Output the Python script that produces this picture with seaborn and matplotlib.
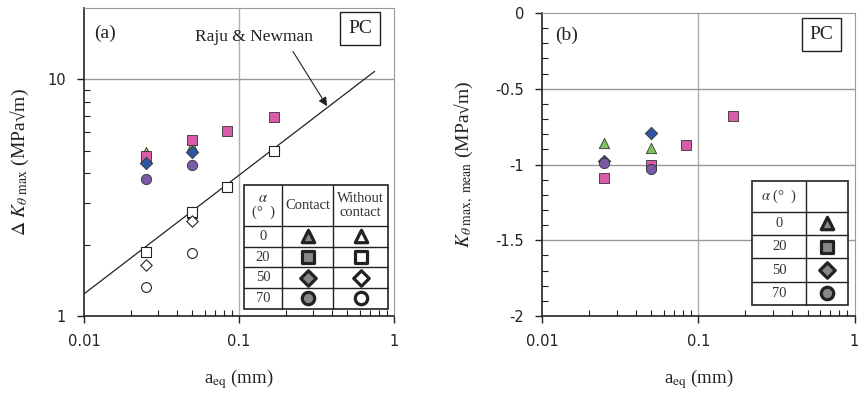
import matplotlib
matplotlib.use("Agg")
import matplotlib.pyplot as plt
import numpy as np
import pandas as pd
import seaborn as sns
from matplotlib.ticker import FixedLocator, NullFormatter, FixedFormatter


# ---- data ----
alpha_labels = ["0", "20", "50", "70"]
markers = ["^", "s", "D", "o"]
colors = ["#7FC45A", "#D95CA8", "#2F55A4", "#7A5AA6"]

# panel (a): Delta K_theta max, contact
a_x_contact = {
    "0": [0.025, 0.05],
    "20": [0.025, 0.05, 0.084, 0.168],
    "50": [0.025, 0.05],
    "70": [0.025, 0.05],
}
a_y_contact = {
    "0": [4.95, 5.25],
    "20": [4.75, 5.55, 6.05, 6.9],
    "50": [4.45, 4.93],
    "70": [3.8, 4.35],
}
# panel (a): without contact
a_x_free = {
    "0": [0.025, 0.05],
    "20": [0.025, 0.05, 0.084, 0.168],
    "50": [0.025, 0.05],
    "70": [0.025, 0.05],
}
a_y_free = {
    "0": [1.88, 2.72],
    "20": [1.86, 2.74, 3.52, 4.98],
    "50": [1.64, 2.53],
    "70": [1.32, 1.84],
}

# Raju & Newman reference line (end points)
raju_x = [0.01, 0.75]
raju_y = [1.24, 10.8]

# panel (b): K_theta max, mean
b_x = {
    "0": [0.025, 0.05],
    "20": [0.025, 0.05, 0.084, 0.168],
    "50": [0.025, 0.05],
    "70": [0.025, 0.05],
}
b_y = {
    "0": [-0.86, -0.89],
    "20": [-1.09, -1.0, -0.87, -0.68],
    "50": [-0.98, -0.79],
    "70": [-0.99, -1.03],
}

serif = ["Liberation Serif", "DejaVu Serif"]
sans = ["DejaVu Sans"]

sns.set_theme(style="white")
plt.rcParams["font.family"] = sans
plt.rcParams["mathtext.fontset"] = "stix"

fig = plt.figure(figsize=(8.61, 3.95), dpi=100)
ax1 = fig.add_axes([0.0976, 0.2, 0.36, 0.7797])
ax2 = fig.add_axes([0.6295, 0.2, 0.363, 0.767])


def style_axes(ax):
    for sp in ax.spines.values():
        sp.set_color("#222222")
        sp.set_linewidth(1.2)
    ax.spines["top"].set_color("#999999")
    ax.spines["right"].set_color("#999999")
    ax.spines["top"].set_linewidth(0.8)
    ax.spines["right"].set_linewidth(0.8)
    ax.tick_params(which="major", direction="out", length=5, width=1,
                   color="#222222", labelsize=10.5, pad=8, labelcolor="#222222")
    ax.tick_params(which="minor", direction="in", length=4, width=0.8,
                   color="#222222")
    ax.tick_params(axis="x", which="both", top=False, bottom=True)
    ax.tick_params(axis="y", which="both", left=True, right=False)


def log_x(ax):
    ax.set_xscale("log")
    ax.set_xlim(0.01, 1)
    ax.xaxis.set_major_locator(FixedLocator([0.01, 0.1, 1]))
    ax.xaxis.set_major_formatter(FixedFormatter(["0.01", "0.1", "1"]))
    minors = [m * d for d in [0.01, 0.1] for m in range(2, 10)]
    ax.xaxis.set_minor_locator(FixedLocator(minors))
    ax.xaxis.set_minor_formatter(NullFormatter())
    ax.grid(False)
    ax.axvline(0.1, color="#b0b0b0", lw=1, zorder=0)


def draw_table(ax, x0, y0, col_w, row_h, texts, cell_markers):
    # grid lines of the legend table in axes coordinates
    xs = np.concatenate([[x0], x0 + np.cumsum(col_w)])
    ys = np.concatenate([[y0], y0 - np.cumsum(row_h)])
    ax.add_patch(plt.Rectangle((xs[0], ys[-1]), xs[-1] - xs[0], ys[0] - ys[-1],
                               transform=ax.transAxes, facecolor="white",
                               edgecolor="#222222", lw=1.2, zorder=5))
    for xv in xs[1:-1]:
        ax.plot([xv, xv], [ys[-1], ys[0]], transform=ax.transAxes,
                color="#222222", lw=1, zorder=6)
    for yv in ys[1:-1]:
        ax.plot([xs[0], xs[-1]], [yv, yv], transform=ax.transAxes,
                color="#222222", lw=1, zorder=6)
    for (r, c), t in texts.items():
        ax.text((xs[c] + xs[c + 1]) / 2, (ys[r] + ys[r + 1]) / 2, t,
                transform=ax.transAxes, ha="center", va="center",
                family=serif, fontsize=10.5, color="#333333", zorder=7,
                linespacing=1.1)
    for (r, c), (m, filled) in cell_markers.items():
        ax.scatter((xs[c] + xs[c + 1]) / 2, (ys[r] + ys[r + 1]) / 2,
                   marker=m, s=80 if m != "D" else 62,
                   facecolor="#888888" if filled else "white",
                   edgecolor="#222222", linewidth=2.3,
                   transform=ax.transAxes, zorder=8, clip_on=False)


# ---------- panel (a) ----------
style_axes(ax1)
ax1.set_yscale("log")
ax1.set_ylim(1, 20)
log_x(ax1)
ax1.yaxis.set_major_locator(FixedLocator([1, 10]))
ax1.yaxis.set_major_formatter(FixedFormatter(["1", "10"]))
ax1.yaxis.set_minor_locator(FixedLocator([m for m in range(2, 10)]))
ax1.yaxis.set_minor_formatter(NullFormatter())
ax1.axhline(10, color="#999999", lw=1, zorder=0)

sns.lineplot(x=raju_x, y=raju_y, ax=ax1, color="#222222", lw=0.9, zorder=2)

for lab, m in zip(alpha_labels, markers):
    df = pd.DataFrame({"x": a_x_free[lab], "y": a_y_free[lab]})
    sns.scatterplot(data=df, x="x", y="y", ax=ax1, marker=m,
                    s=50 if m != "D" else 34, facecolor="white",
                    edgecolor="#222222", linewidth=0.8, zorder=3)
for lab, m, c in zip(alpha_labels, markers, colors):
    df = pd.DataFrame({"x": a_x_contact[lab], "y": a_y_contact[lab]})
    sns.scatterplot(data=df, x="x", y="y", ax=ax1, marker=m,
                    s=55 if m != "D" else 40, color=c,
                    edgecolor="#333333", linewidth=0.6, zorder=4)

ax1.text(0.125, 15.1, "Raju & Newman", family=serif, fontsize=12.5,
         color="#222222", ha="center", va="center")
ax1.annotate("", xy=(0.37, 7.7), xytext=(0.223, 13.1),
             arrowprops=dict(arrowstyle="-|>", color="#222222", lw=0.8,
                             shrinkA=0, shrinkB=0, mutation_scale=13))
ax1.text(0.068, 0.919, "(a)", transform=ax1.transAxes, family=serif,
         fontsize=14, ha="center", va="center", color="#222222")
ax1.text(0.89, 0.933, "PC", transform=ax1.transAxes, family=serif,
         fontsize=14, ha="center", va="center", color="#222222",
         bbox=dict(boxstyle="square,pad=0.4", facecolor="white",
                   edgecolor="#222222", lw=1))

tbl_a_text = {(0, 0): "$\\alpha$\n(°  )", (0, 1): "Contact",
              (0, 2): "Without\ncontact"}
tbl_a_mark = {}
for i, (lab, m) in enumerate(zip(alpha_labels, markers)):
    tbl_a_text[(i + 1, 0)] = lab
    tbl_a_mark[(i + 1, 1)] = (m, True)
    tbl_a_mark[(i + 1, 2)] = (m, False)
draw_table(ax1, 0.516, 0.425, [0.123, 0.165, 0.177],
           [0.133, 0.067, 0.067, 0.067, 0.068], tbl_a_text, tbl_a_mark)

ax1.set_xlabel("a$_{\\rm eq}$ (mm)", family=serif, fontsize=13.5,
               color="#222222", labelpad=13)
ax1.set_ylabel("$\\Delta\\ K_{\\theta\\ \\rm max}$ (MPa\u221am)",
               family=serif, fontsize=14, color="#222222", labelpad=12)

# ---------- panel (b) ----------
style_axes(ax2)
log_x(ax2)
ax2.set_ylim(-2, 0)
ax2.yaxis.set_major_locator(FixedLocator([-2, -1.5, -1, -0.5, 0]))
ax2.yaxis.set_major_formatter(FixedFormatter(["-2", "-1.5", "-1", "-0.5", "0"]))
ax2.yaxis.set_minor_locator(FixedLocator(np.arange(-1.9, 0, 0.1)))
ax2.yaxis.set_minor_formatter(NullFormatter())
for yv in [-1.5, -1, -0.5]:
    ax2.axhline(yv, color="#999999", lw=1, zorder=0)

for lab, m, c in zip(alpha_labels, markers, colors):
    df = pd.DataFrame({"x": b_x[lab], "y": b_y[lab]})
    sns.scatterplot(data=df, x="x", y="y", ax=ax2, marker=m,
                    s=55 if m != "D" else 40, color=c,
                    edgecolor="#333333", linewidth=0.6, zorder=4)

ax2.text(0.079, 0.927, "(b)", transform=ax2.transAxes, family=serif,
         fontsize=14, ha="center", va="center", color="#222222")
ax2.text(0.895, 0.929, "PC", transform=ax2.transAxes, family=serif,
         fontsize=14, ha="center", va="center", color="#222222",
         bbox=dict(boxstyle="square,pad=0.4", facecolor="white",
                   edgecolor="#222222", lw=1))

tbl_b_text = {(0, 0): "$\\alpha$ (°  )", (0, 1): ""}
tbl_b_mark = {}
for i, (lab, m) in enumerate(zip(alpha_labels, markers)):
    tbl_b_text[(i + 1, 0)] = lab
    tbl_b_mark[(i + 1, 1)] = (m, True)
draw_table(ax2, 0.673, 0.446, [0.172, 0.134],
           [0.102, 0.077, 0.077, 0.077, 0.077], tbl_b_text, tbl_b_mark)

ax2.set_xlabel("a$_{\\rm eq}$ (mm)", family=serif, fontsize=13.5,
               color="#222222", labelpad=13)
ax2.set_ylabel("$K_{\\theta\\ \\rm max,\\ mean}$ (MPa\u221am)",
               family=serif, fontsize=14, color="#222222", labelpad=14)

for ax in (ax1, ax2):
    leg = ax.get_legend()
    if leg is not None:
        leg.remove()

fig.savefig("out.png", dpi=100)
